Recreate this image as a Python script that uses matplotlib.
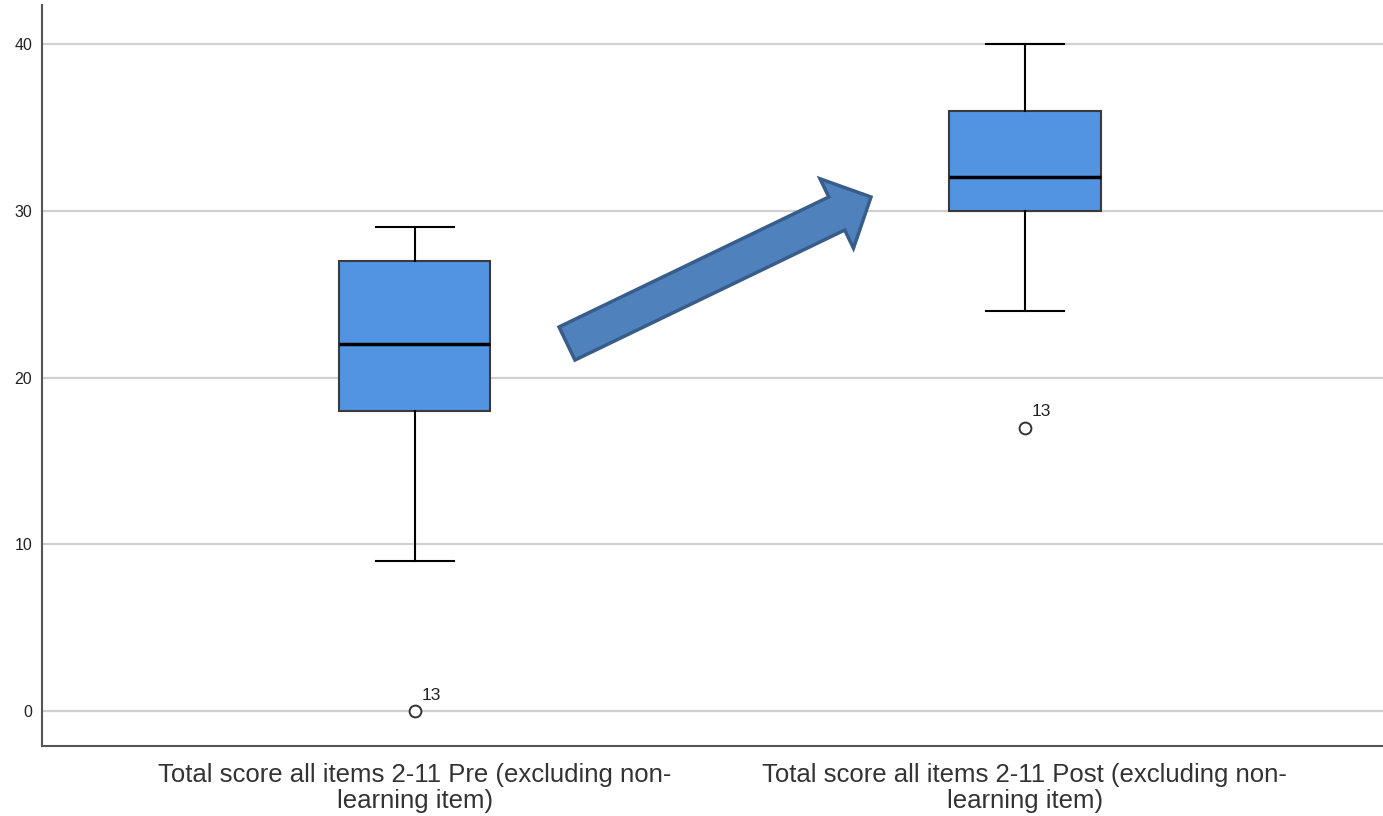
import matplotlib.pyplot as plt
from matplotlib.patches import FancyArrow

plt.rcParams['font.family'] = ['Liberation Sans', 'DejaVu Sans']

# Box plot summaries
labels = ["Total score all items 2-11 Pre (excluding non-\nlearning item)",
          "Total score all items 2-11 Post (excluding non-\nlearning item)"]
whislo = [9, 24]
q1 = [18, 30]
med = [22, 32]
q3 = [27, 36]
whishi = [29, 40]
fliers = [[0], [17]]
flier_ids = ["13", "13"]

stats = []
for i in range(len(labels)):
    stats.append(dict(label=labels[i], whislo=whislo[i], q1=q1[i], med=med[i],
                      q3=q3[i], whishi=whishi[i], fliers=fliers[i]))

fig = plt.figure(figsize=(13.83, 8.16), dpi=100)
ax = fig.add_axes([42 / 1383, 70 / 816, 1341 / 1383, 741 / 816])

ax.bxp(stats, positions=[1, 2], widths=0.248, patch_artist=True,
       boxprops=dict(facecolor='#5294e2', edgecolor='#3a3a3a', linewidth=1.5),
       medianprops=dict(color='black', linewidth=2.5),
       whiskerprops=dict(color='black', linewidth=1.5),
       capprops=dict(color='black', linewidth=1.5),
       capwidths=0.128,
       flierprops=dict(marker='o', markerfacecolor='white', markeredgecolor='#333333',
                       markersize=8.5, markeredgewidth=1.4),
       zorder=3)

for i, (f, lab) in enumerate(zip(fliers, flier_ids)):
    for v in f:
        ax.annotate(lab, (i + 1, v), xytext=(5, 8), textcoords='offset points',
                    fontsize=12.5, color='#222222')

ax.set_xlim(0.389, 2.587)
ax.set_ylim(-2.1, 42.34)
ax.set_yticks([0, 10, 20, 30, 40])
ax.yaxis.grid(True, color='#d0d0d0', linewidth=1.6)
ax.set_axisbelow(True)
ax.tick_params(axis='both', length=0)
ax.tick_params(axis='y', labelsize=11.5, pad=7, labelcolor='#222222')
ax.tick_params(axis='x', labelsize=18.5, pad=12, labelcolor='#333333')
for lbl in ax.get_xticklabels():
    lbl.set_linespacing(1.1)
ax.spines['top'].set_visible(False)
ax.spines['right'].set_visible(False)
ax.spines['left'].set_color('#555555')
ax.spines['bottom'].set_color('#555555')
ax.spines['left'].set_linewidth(1.5)
ax.spines['bottom'].set_linewidth(1.5)

# decorative arrow between the boxes (figure inches)
arrow = FancyArrow(567 / 100, (816 - 343.5) / 100, 304 / 100, 146.5 / 100,
                   width=36.7 / 100, head_width=77 / 100, head_length=38 / 100,
                   length_includes_head=True, facecolor='#4f81bd',
                   edgecolor='#385d8a', linewidth=2.5,
                   transform=fig.dpi_scale_trans, zorder=5)
fig.patches.append(arrow)

fig.savefig('out.png', dpi=100)
